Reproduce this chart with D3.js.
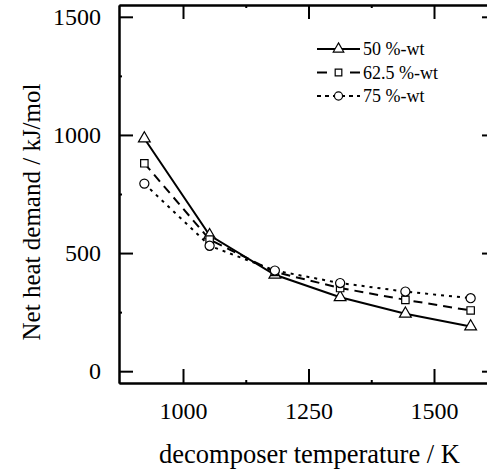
<!DOCTYPE html>
<html lang="en">
<head>
    <meta charset="UTF-8">
    <title>Net heat demand vs decomposer temperature</title>
    <script src="https://d3js.org/d3.v7.min.js"></script>
    <style>
        body { margin: 0; background: #fff; }
        text { font-family: "Liberation Serif", "Times New Roman", serif; fill: #000; }
    </style>
</head>
<body>
    <div id="my_dataviz"></div>

    <script>
        // data
        const temperatures = [923, 1053, 1183, 1313, 1443, 1573];
        const wt50 = [985, 575, 408, 313, 243, 189];
        const wt625 = [880, 557, 420, 352, 302, 257];
        const wt75 = [794, 531, 426, 373, 337, 309];
        const seriesNames = ["50 %-wt", "62.5 %-wt", "75 %-wt"];
        const xTicks = [1000, 1250, 1500];
        const xMinor = [1125, 1375];
        const yTicks = [0, 500, 1000, 1500];
        const yMinor = [250, 750, 1250];

        const series = [
            { name: seriesNames[0], values: wt50, dash: null, legendDash: null, symbol: d3.symbolTriangle, size: 60 },
            { name: seriesNames[1], values: wt625, dash: "9,6", legendDash: "10,23,10", symbol: d3.symbolSquare, size: 55 },
            { name: seriesNames[2], values: wt75, dash: "3,5", legendDash: "4,4", symbol: d3.symbolCircle, size: 65 }
        ];

        var margin = {top: 5, right: -9, bottom: 88, left: 119};
        var width = 487 - margin.left - margin.right;
        var height = 471 - margin.top - margin.bottom;

        const svg = d3.select("#my_dataviz")
            .append("svg")
            .attr("width", 487)
            .attr("height", 471)
            .append("g")
            .attr("transform", `translate(${margin.left},${margin.top})`);

        const x = d3.scaleLinear()
            .domain([872.5, 1623.5])
            .range([0, width]);
        const y = d3.scaleLinear()
            .domain([-50, 1550])
            .range([height, 0]);

        // frame with inward ticks on all four sides
        function styleAxis(g, fontSize) {
            g.select(".domain").attr("stroke-width", 2);
            g.selectAll(".tick line").attr("stroke-width", 2);
            g.selectAll("text")
                .attr("font-family", "Liberation Serif, Times New Roman, serif")
                .attr("font-size", fontSize);
        }

        const fmt = d3.format("d");

        svg.append("g")
            .attr("transform", `translate(0, ${height})`)
            .call(d3.axisBottom(x).tickValues(xTicks).tickFormat(fmt).tickSize(-14).tickSizeOuter(0).tickPadding(19))
            .call(g => styleAxis(g, 24));
        svg.append("g")
            .attr("transform", `translate(0, ${height})`)
            .call(d3.axisBottom(x).tickValues(xMinor).tickSize(-3).tickSizeOuter(0).tickFormat(""))
            .call(g => styleAxis(g, 0));

        svg.append("g")
            .call(d3.axisTop(x).tickValues(xTicks).tickSize(-14).tickSizeOuter(0).tickFormat(""))
            .call(g => styleAxis(g, 0));
        svg.append("g")
            .call(d3.axisTop(x).tickValues(xMinor).tickSize(-3).tickSizeOuter(0).tickFormat(""))
            .call(g => styleAxis(g, 0));

        svg.append("g")
            .call(d3.axisLeft(y).tickValues(yTicks).tickFormat(fmt).tickSize(-14).tickSizeOuter(0).tickPadding(18))
            .call(g => styleAxis(g, 24));
        svg.append("g")
            .call(d3.axisLeft(y).tickValues(yMinor).tickSize(-3).tickSizeOuter(0).tickFormat(""))
            .call(g => styleAxis(g, 0));

        svg.append("g")
            .attr("transform", `translate(${width}, 0)`)
            .call(d3.axisRight(y).tickValues(yTicks).tickSize(-14).tickSizeOuter(0).tickFormat(""))
            .call(g => styleAxis(g, 0));
        svg.append("g")
            .attr("transform", `translate(${width}, 0)`)
            .call(d3.axisRight(y).tickValues(yMinor).tickSize(-3).tickSizeOuter(0).tickFormat(""))
            .call(g => styleAxis(g, 0));

        // axis titles
        svg.append("text")
            .attr("x", 159 - margin.left)
            .attr("y", height + 80)
            .attr("font-size", 26.5)
            .text("decomposer temperature / K");

        svg.append("text")
            .attr("transform", `translate(${40 - margin.left}, ${212 - margin.top}) rotate(-90)`)
            .attr("text-anchor", "middle")
            .attr("font-size", 25)
            .text("Net heat demand / kJ/mol");

        // lines and markers
        const line = d3.line()
            .x(function(d, i) { return x(temperatures[i]) })
            .y(function(d) { return y(d) });

        series.forEach(function(s) {
            svg.append("path")
                .datum(s.values)
                .attr("fill", "none")
                .attr("stroke", "#000")
                .attr("stroke-width", 2)
                .attr("stroke-dasharray", s.dash)
                .attr("d", line);
        });

        series.forEach(function(s) {
            svg.selectAll(null)
                .data(s.values)
                .join("path")
                .attr("transform", (d, i) => `translate(${x(temperatures[i])}, ${y(d)})`)
                .attr("d", d3.symbol().type(s.symbol).size(s.size))
                .attr("fill", "#fff")
                .attr("stroke", "#000")
                .attr("stroke-width", 1.2);
        });

        // legend
        const legend = svg.append("g")
            .attr("transform", `translate(${317 - margin.left}, ${49 - margin.top})`);
        series.forEach(function(s, i) {
            const row = legend.append("g").attr("transform", `translate(0, ${i * 23.5})`);
            row.append("line")
                .attr("x1", 0).attr("x2", 43)
                .attr("y1", 0).attr("y2", 0)
                .attr("stroke", "#000")
                .attr("stroke-width", 2)
                .attr("stroke-dasharray", s.legendDash);
            row.append("path")
                .attr("transform", "translate(21.5, 0)")
                .attr("d", d3.symbol().type(s.symbol).size(s.size * 0.8))
                .attr("fill", "#fff")
                .attr("stroke", "#000")
                .attr("stroke-width", 1.2);
            row.append("text")
                .attr("x", 46)
                .attr("y", 6)
                .attr("font-size", 18)
                .text(s.name);
        });
    </script>
</body>
</html>
